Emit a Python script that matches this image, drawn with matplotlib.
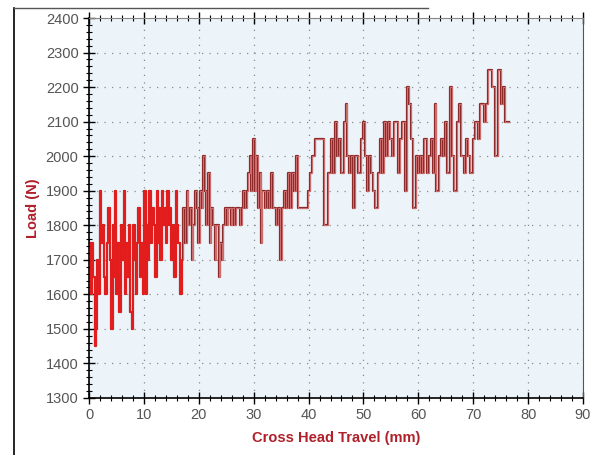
import matplotlib
matplotlib.use("Agg")
import matplotlib.pyplot as plt
import matplotlib.patheffects as pe
from matplotlib.lines import Line2D
from matplotlib.ticker import MultipleLocator

# cross head travel (mm) and load (N) (step plot)
travel = [
    0.0, 0.3, 0.5, 0.8, 1.0, 1.2, 1.5, 1.7, 2.0, 2.2, 2.5, 2.8, 3.0, 3.3, 3.5, 3.8,
    4.0, 4.3, 4.5, 4.8, 5.0, 5.3, 5.5, 5.8, 6.0, 6.3, 6.5, 6.8, 7.0, 7.3, 7.5, 7.8,
    8.0, 8.3, 8.5, 8.8, 9.0, 9.3, 9.5, 9.8, 10.0, 10.3, 10.5, 10.8, 11.0, 11.3, 11.5, 11.8,
    12.0, 12.3, 12.5, 12.8, 13.0, 13.3, 13.5, 13.8, 14.0, 14.3, 14.5, 14.8, 15.0, 15.3, 15.5, 15.8,
    16.0, 16.3, 16.6, 16.9, 17.2, 17.5, 17.8, 18.1, 18.4, 18.7, 19.0, 19.3, 19.6, 19.9,
    20.2, 20.5, 20.8, 21.1, 21.4, 21.7, 22.0, 22.3, 22.6, 22.9, 23.2, 23.6, 23.9, 24.2,
    24.5, 24.8, 25.1, 25.4, 25.8, 26.1, 26.4, 26.8, 27.5, 27.8, 28.1, 28.4, 28.7, 29.0,
    29.3, 29.6, 29.9, 30.2, 30.5, 30.8, 31.1, 31.3, 31.6, 32.0, 32.4, 32.8, 33.2, 33.6,
    34.0, 34.4, 34.8, 35.1, 35.5, 35.9, 36.2, 36.6, 37.0, 37.4, 37.8, 38.1, 39.9, 40.3,
    40.7, 41.1, 42.9, 43.6, 44.0, 44.4, 44.8, 45.2, 45.6, 46.0, 46.4, 46.8, 47.0, 47.4,
    47.8, 48.1, 48.5, 49.0, 49.5, 49.9, 50.2, 50.6, 51.0, 51.4, 51.8, 52.1, 52.6, 53.0,
    53.4, 53.8, 54.1, 54.4, 54.8, 55.2, 55.5, 56.3, 56.7, 57.1, 57.5, 57.9, 58.3, 58.7,
    59.1, 59.5, 59.9, 60.3, 60.7, 61.1, 61.5, 61.9, 62.3, 62.7, 63.1, 63.3, 63.7, 64.1,
    64.5, 64.9, 65.3, 65.7, 66.1, 66.5, 67.0, 67.4, 67.8, 68.3, 68.7, 69.1, 69.5, 69.9,
    70.3, 70.8, 71.2, 72.0, 72.4, 72.7, 73.5, 74.0, 74.5, 75.0, 75.4, 75.8, 76.5,
]
load = [
    1750, 1600, 1750, 1650, 1450, 1500, 1700, 1600, 1900, 1750, 1800, 1650, 1600, 1750, 1850, 1700,
    1500, 1800, 1650, 1900, 1600, 1750, 1550, 1800, 1700, 1900, 1600, 1750, 1650, 1800, 1550, 1500,
    1800, 1700, 1600, 1750, 1850, 1650, 1750, 1600, 1900, 1600, 1800, 1700, 1900, 1750, 1850, 1800,
    1650, 1900, 1750, 1850, 1700, 1900, 1800, 1850, 1750, 1900, 1800, 1850, 1700, 1800, 1650, 1900,
    1800, 1750, 1600, 1700, 1850, 1750, 1900, 1800, 1850, 1700, 1800, 1900, 1850, 1750,
    1900, 1850, 2000, 1900, 1800, 1950, 1750, 1850, 1800, 1700, 1800, 1650, 1750, 1700,
    1800, 1850, 1800, 1850, 1800, 1850, 1800, 1850, 1800, 1850, 1900, 1850, 1900, 1950,
    2000, 1900, 2050, 1900, 2000, 1850, 1950, 1750, 1900, 1850, 1900, 1850, 1950, 1850,
    1800, 1850, 1700, 1850, 1900, 1850, 1950, 1850, 1950, 1900, 2000, 1850, 1900, 1950,
    2000, 2050, 1800, 1950, 2050, 1950, 2100, 2000, 2050, 1950, 2100, 2150, 2000, 1950,
    2000, 1850, 2000, 1950, 2050, 2100, 2000, 1900, 2000, 1950, 1900, 1850, 1950, 2050,
    1950, 2100, 2000, 2100, 2050, 2000, 2100, 1950, 2050, 2100, 1900, 2200, 2150, 2050,
    1850, 2000, 1950, 2000, 1950, 2050, 1950, 2000, 2050, 1950, 2150, 1900, 2000, 2050,
    2000, 2100, 1950, 2200, 2000, 1900, 2100, 2150, 2000, 1950, 2050, 2000, 1950, 2050,
    2100, 2050, 2150, 2100, 2150, 2250, 2200, 2000, 2250, 2150, 2200, 2100, 2100,
]

LABEL_RED = "#b0202a"
N_DENSE = 68  # the dense start of the trace prints as solid red

fig = plt.figure(figsize=(5.95, 4.55), dpi=100)
ax = fig.add_axes([0.1496, 0.1253, 0.8302, 0.8351])
ax.set_facecolor("#edf4f9")

ax.plot(travel, load, drawstyle="steps-post", color="#d97a7a", lw=0.6,
        path_effects=[pe.Stroke(linewidth=1.6, foreground="#8e2a2a"), pe.Normal()])
ax.plot(travel[:N_DENSE], load[:N_DENSE], drawstyle="steps-post", color="#e41c1c", lw=1.4)

ax.set_xlim(0, 90)
ax.set_ylim(1300, 2400)
ax.xaxis.set_major_locator(MultipleLocator(10))
ax.xaxis.set_minor_locator(MultipleLocator(2))
ax.yaxis.set_major_locator(MultipleLocator(100))
ax.yaxis.set_minor_locator(MultipleLocator(20))
ax.tick_params(which="major", direction="inout", length=8, width=1, color="black",
               labelsize=10.5, labelcolor="#555555")
ax.tick_params(which="minor", direction="inout", length=5, width=0.8, color="black")
ax.tick_params(axis="x", which="both", top=True, labeltop=False)
ax.grid(True, which="major", color="#8a8a8a", linestyle=(0, (1, 5)), lw=0.9)

for side in ["left", "bottom"]:
    ax.spines[side].set_color("black")
    ax.spines[side].set_linewidth(1.2)
ax.spines["top"].set_color("#888888")
ax.spines["right"].set_color("#555555")

for lab in ax.get_xticklabels() + ax.get_yticklabels():
    lab.set_family("Liberation Sans")

ax.set_xlabel("Cross Head Travel (mm)", fontsize=10.5, fontweight="bold", color=LABEL_RED,
              family="Liberation Sans", labelpad=6)
ax.set_ylabel("Load (N)", fontsize=10.5, fontweight="bold", color=LABEL_RED,
              family="Liberation Sans", labelpad=4)

# scanned page frame
fig.add_artist(Line2D([0.023, 0.023], [0.0, 0.982], color="black", lw=1.2))
fig.add_artist(Line2D([0.023, 0.72], [0.982, 0.982], color="#555555", lw=1.0))

fig.savefig("out.png", dpi=100)
print("Saved: out.png")
